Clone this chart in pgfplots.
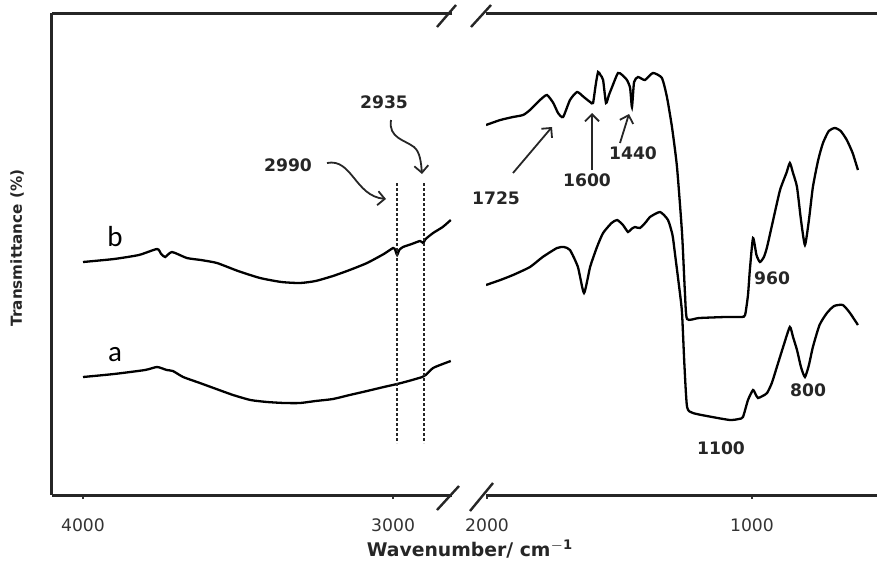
\documentclass[border=0pt]{standalone}
\usepackage{fontspec}
\setmainfont{DejaVu Sans}
\newfontfamily\calib{Carlito}
\usepackage{pgfplots}
\pgfplotsset{compat=1.18}
\usetikzlibrary{arrows.meta}

\pgfplotsset{
  spec/.style={
    scale only axis, height=241pt,
    ymin=0, ymax=482, x dir=reverse, ytick=\empty,
    separate axis lines,
    axis line style={line width=1.5pt, draw=black!85},
    tick align=outside, xtick pos=bottom,
    major tick length=2pt,
    tick style={line width=0.9pt, black!80},
    /pgf/number format/assume math mode=true,
    /pgf/number format/set thousands separator={},
    xticklabel style={font=\fontsize{8.6}{9}\selectfont, text=black!80, yshift=-6.5pt},
  },
  trace/.style={line width=1.15pt, black, smooth, tension=0.35, no marks},
}
\tikzset{bandline/.style={line width=0.7pt, black!85, dash pattern=on 1.6pt off 0.9pt}}

\begin{document}
\begin{tikzpicture}

% 4000--2800 cm^-1 region
\begin{axis}[spec, at={(26pt,34.5pt)}, anchor=south west, width=200pt,
  xmin=2810, xmax=4100, xtick={4000,3000},
  axis x line*=box, axis y line*=left]
  % curve b
  \addplot[trace] coordinates {
    (4000,233) (3900,236) (3820,240) (3761,246) (3748,241) (3735,238)
    (3713,243) (3665,237) (3620,235) (3568,232) (3500,224) (3429,217)
    (3360,213) (3300,212) (3250,214) (3194,219) (3140,225) (3084,232)
    (3030,241) (3000,247) (2993,245) (2987,240) (2980,245) (2968,248)
    (2940,251) (2913,254) (2903,252) (2895,256) (2871,262) (2840,268)
    (2814,275)};
  % curve a
  \addplot[trace] coordinates {
    (4000,118) (3900,121) (3800,125) (3761,128) (3730,125) (3710,124)
    (3677,118) (3623,112) (3570,106) (3516,100) (3460,95) (3406,93)
    (3350,92) (3300,92) (3250,94) (3194,96) (3140,100) (3084,104)
    (3030,108) (2987,111) (2950,114) (2906,118) (2895,120) (2871,127)
    (2840,131) (2814,134)};
  % band markers
  \draw[bandline] (axis cs:2987,312) -- (axis cs:2987,52);
  \draw[bandline] (axis cs:2900,312) -- (axis cs:2900,52);
\end{axis}

% 2000--500 cm^-1 region
\begin{axis}[spec, at={(243pt,34.5pt)}, anchor=south west, width=195.5pt,
  xmin=528, xmax=2004, xtick={2000,1000},
  axis x line*=box, axis y line=none]
  % curve b
  \addplot[trace] coordinates {
    (2004,370) (1950,375) (1902,378) (1864,380) (1838,385) (1800,395)
    (1774,400) (1750,392) (1732,382) (1713,378) (1687,395) (1660,403)
    (1635,398) (1611,393) (1600,392) (1590,410) (1581,423) (1572,420)
    (1562,415) (1551,392) (1540,400) (1528,408) (1506,422) (1490,420)
    (1472,415) (1460,407) (1453,388) (1445,413) (1430,418) (1404,415)
    (1374,422) (1340,417) (1321,398) (1302,368) (1283,328) (1264,262)
    (1253,202) (1245,176) (1200,177) (1100,178) (1040,178) (1026,180)
    (1015,200) (1008,225) (996,257) (983,240) (970,233) (955,238)
    (943,248) (920,275) (894,305) (870,322) (857,332) (845,322)
    (830,308) (815,275) (800,250) (785,275) (770,308) (750,335)
    (732,352) (710,364) (687,367) (665,364) (642,355) (620,342) (600,325)};
  % curve a
  \addplot[trace] coordinates {
    (2004,210) (1950,215) (1902,220) (1838,228) (1790,238) (1736,247)
    (1710,248) (1687,245) (1657,228) (1634,202) (1611,228) (1585,248)
    (1562,262) (1530,272) (1509,275) (1487,270) (1468,263) (1455,266)
    (1442,268) (1423,267) (1400,273) (1385,278) (1347,283) (1317,275)
    (1300,260) (1291,242) (1272,202) (1264,182) (1255,130) (1245,88)
    (1223,82) (1150,78) (1083,75) (1050,76) (1034,78) (1015,95)
    (996,105) (985,100) (977,97) (960,99) (943,102) (925,112) (906,128)
    (880,150) (857,168) (845,158) (830,145) (815,128) (800,118)
    (785,130) (770,148) (745,170) (717,182) (690,189) (657,190)
    (630,182) (600,170)};
\end{axis}

% annotations, placed in pixel units measured from the top-left corner
\begin{scope}[x=0.5pt, y=-0.5pt, shift={(0pt,282pt)}]
  % axis break marks
  \begin{scope}[line width=1.2pt, black!85]
    \draw (437,27) -- (456,5);
    \draw (471,27) -- (491,5);
    \draw (437,510) -- (459,486);
    \draw (470,511) -- (493,483);
  \end{scope}

  % curve labels
  \node[font=\calib\fontsize{14.5}{15}\selectfont] at (115,237) {b};
  \node[font=\calib\fontsize{14.5}{15}\selectfont] at (115,355) {a};

  % band annotations
  \begin{scope}[font=\bfseries\fontsize{8.6}{9}\selectfont, text=black!85]
    \node at (288,165) {2990};
    \node at (384,102) {2935};
    \node at (496,198) {1725};
    \node at (587,180) {1600};
    \node at (633,153) {1440};
    \node at (772,278) {960};
    \node at (808,390) {800};
    \node at (721,448) {1100};
  \end{scope}

  \begin{scope}[line width=0.9pt, black!85, -{Straight Barb[length=3.5pt,width=7pt]}]
    \draw (327,163) .. controls (352,158) and (355,196) .. (386,199);
    \draw (391,120) .. controls (388,138) and (405,140) .. (414,147)
          .. controls (420,152) and (421,162) .. (422,174);
    \draw (513,173) -- (552,127);
    \draw (592,170) -- (592,113);
    \draw (620,143) -- (629,114);
  \end{scope}

  % axis titles
  \node[rotate=90, font=\bfseries\fontsize{7.6}{8}\selectfont, text=black!85] at (17,248) {Transmittance (\%)};
  \node[font=\bfseries\fontsize{9.4}{10}\selectfont, text=black!85] at (470,549) {Wavenumber/ cm$^{\mathbf{-1}}$};
\end{scope}

\pgfresetboundingbox
\path (0,0) rectangle (438.5pt,282pt);
\end{tikzpicture}
\end{document}
